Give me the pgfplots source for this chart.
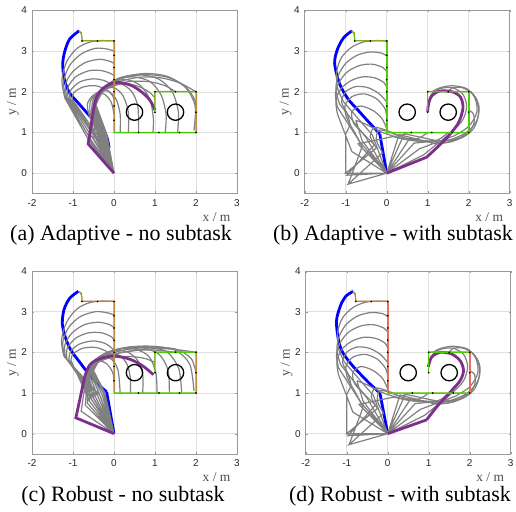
\documentclass[border=0pt]{standalone}
\usepackage{fontspec}
\setmainfont{Liberation Serif}
\newfontfamily\arialf{Liberation Sans}
\usepackage{pgfplots}
\pgfplotsset{compat=1.18}
\definecolor{gcurve}{rgb}{0.5,0.5,0.5}
\definecolor{mpurple}{rgb}{0.494,0.184,0.556}
\definecolor{pgreen}{rgb}{0.3,0.8,0.0}
\definecolor{pred}{rgb}{1,0.4,0.4}
\pgfplotsset{
  panel/.style={anchor=south west, scale only axis, width=205bp, height=183bp,
    xmin=-2, xmax=3, ymin=-0.5, ymax=4,
    xtick={-2,-1,0,1,2,3}, ytick={0,1,2,3,4},
    xticklabels={-2,-1,0,1,2,3}, yticklabels={0,1,2,3,4},
    grid=major, major grid style={black!12, line width=0.5bp},
    axis line style={black!40, line width=0.6bp},
    tick align=inside, major tick length=2bp, tick style={black!40},
    ticklabel style={font=\arialf\fontsize{10}{12}\selectfont, text=black!85},
    xticklabel style={yshift=-2.5bp}, yticklabel style={xshift=-1.5bp},
    xlabel={x / m}, ylabel={y / m},
    xlabel style={at={(axis description cs:0.9,-0.128)}, anchor=center, inner sep=0pt, font=\fontsize{13.5}{15}\selectfont, text=black!70},
    ylabel style={at={(axis description cs:-0.093,0.5)}, anchor=center, inner sep=0pt, font=\fontsize{13.5}{15}\selectfont, text=black!70},
  },
  gr/.style={gcurve, line width=1.2bp, smooth, tension=0.5},
  lk/.style={gcurve, line width=1.2bp, unbounded coords=jump},
  bl/.style={blue, line width=2.8bp},
  pu/.style={mpurple, line width=2.8bp},
}
\newcommand{\obst}{%
\addplot[black, line width=1.3bp] coordinates {(0.7,1.5) (0.685,1.577) (0.641,1.641) (0.577,1.685) (0.5,1.7) (0.423,1.685) (0.359,1.641) (0.315,1.577) (0.3,1.5) (0.315,1.423) (0.359,1.359) (0.423,1.315) (0.5,1.3) (0.577,1.315) (0.641,1.359) (0.685,1.423) (0.7,1.5)};
\addplot[black, line width=1.3bp] coordinates {(1.7,1.5) (1.685,1.577) (1.641,1.641) (1.577,1.685) (1.5,1.7) (1.423,1.685) (1.359,1.641) (1.315,1.577) (1.3,1.5) (1.315,1.423) (1.359,1.359) (1.423,1.315) (1.5,1.3) (1.577,1.315) (1.641,1.359) (1.685,1.423) (1.7,1.5)};
}
\newcommand{\trackpath}{%
\addplot[pred, line width=1.0bp] coordinates {(-0.85,3.5) (-0.8,3.42) (-0.77,3.26) (0.015,3.26) (0.015,0.99) (2.015,0.99) (2.015,2.01) (1.0,2.01) (1.0,1.65)};
\addplot[pgreen, line width=1.0bp] coordinates {(-0.85,3.5) (-0.79,3.45) (-0.78,3.25) (0,3.25) (0,1) (2,1) (2,2) (1,2) (1,1.5)};
\addplot[only marks, mark=*, mark size=0.6bp, black] coordinates {(-0.78,3.25) (-0.4,3.25) (0,3.25) (0,2.9) (0,2.6) (0,2.3) (0,2.0) (0,1.65) (0,1.3) (0.6,1) (1.1,1) (1.6,1) (2,1) (2,1.5) (2,2) (1.5,2) (1,2) (1,1.5)};
}
% gray configurations shared by (b) and (d)
\newcommand{\bdgray}{%
\addplot[lk] coordinates {(0,0) (-0.35,0.94) (-1.05,1.75) (nan,nan) (0,0) (-0.5,0.87) (-1.15,1.7) (nan,nan) (0,0) (-0.65,0.76) (-1.2,1.62) (nan,nan) (0,0) (-0.85,0.53) (-1.2,1.45) (nan,nan) (0,0) (-1,0) (-1,0.97) (nan,nan) (0,0) (-0.94,-0.27) (-0.6,0.65) (nan,nan) (0,0) (-0.97,-0.05) (-0.3,0.7) (nan,nan) (0,0) (-0.94,-0.27) (-0.1,0.5) (nan,nan) (0,0) (-1,0) (-0.25,0.62) (nan,nan) (0,0) (-0.7,0.72) (0.15,0.9) (nan,nan) (0,0) (-0.6,0.8) (-0.75,1.3) (nan,nan) (0,0) (0.43,0.97) (1.3,0.78) (nan,nan) (0,0) (0.3,0.95) (1.2,0.72) (nan,nan) (0,0) (0.55,0.84) (1.45,0.75) (nan,nan) (0,0) (0.67,0.74) (1.55,0.82) (nan,nan) (0,0) (0.8,0.6) (1.65,0.92) (nan,nan) (0,0) (0.9,0.45) (1.55,0.98)};
\addplot[gr] coordinates {(-1.05,1.75) (-1.2,2.1) (-1.22,2.5) (-1.1,2.85) (-0.85,3.1) (-0.55,3.23) (-0.25,3.26) (0,3.25)};
\addplot[gr] coordinates {(-1.15,1.7) (-1.24,2.05) (-1.18,2.4) (-1.0,2.7) (-0.72,2.9) (-0.4,2.98) (-0.12,2.95) (0,2.88)};
\addplot[gr] coordinates {(-1.2,1.62) (-1.25,1.95) (-1.15,2.25) (-0.95,2.5) (-0.65,2.65) (-0.35,2.68) (-0.1,2.6) (0,2.5)};
\addplot[gr] coordinates {(-1.2,1.45) (-1.24,1.78) (-1.12,2.07) (-0.88,2.27) (-0.58,2.37) (-0.28,2.34) (-0.06,2.22) (0,2.1)};
\addplot[gr] coordinates {(-1.0,0.97) (-0.9,1.2) (-0.98,1.5) (-1.1,1.75) (-1.0,2.0) (-0.75,2.13) (-0.45,2.1) (-0.18,1.95) (0,1.75)};
\addplot[gr] coordinates {(-0.6,0.65) (-0.78,1.0) (-0.97,1.35) (-1.02,1.65) (-0.85,1.88) (-0.55,1.95) (-0.25,1.83) (-0.05,1.6) (0,1.4)};
\addplot[gr] coordinates {(-0.3,0.7) (-0.55,0.95) (-0.8,1.22) (-0.85,1.5) (-0.65,1.65) (-0.35,1.55) (-0.12,1.35) (0,1.1)};
\addplot[gr] coordinates {(-0.1,0.5) (-0.25,0.8) (-0.2,1.05) (0.05,1.02) (0.3,0.92) (0.5,1.0)};
\addplot[gr] coordinates {(-0.25,0.62) (-0.4,0.9) (-0.3,1.12) (0,1.05) (0.4,0.88) (0.75,0.85) (1.0,1.0)};
\addplot[gr] coordinates {(0.15,0.9) (0.5,0.82) (0.9,0.78) (1.25,0.82) (1.5,1.0)};
\addplot[gr] coordinates {(-0.75,1.3) (-0.5,1.2) (-0.1,1.0) (0.4,0.85) (0.95,0.78) (1.45,0.8) (1.8,0.88) (2.0,1.05)};
\addplot[gr] coordinates {(1.3,0.78) (1.65,0.82) (1.9,0.92) (2.0,1.0)};
\addplot[gr] coordinates {(1.2,0.72) (1.6,0.78) (1.95,0.95) (2.12,1.2) (2.12,1.45) (2.0,1.55)};
\addplot[gr] coordinates {(1.45,0.75) (1.85,0.88) (2.12,1.1) (2.24,1.45) (2.2,1.8) (2.05,2.0)};
\addplot[gr] coordinates {(1.55,0.82) (1.95,1.0) (2.2,1.3) (2.25,1.65) (2.1,1.95) (1.85,2.1) (1.6,2.1) (1.5,2.0)};
\addplot[gr] coordinates {(1.65,0.92) (2.0,1.15) (2.2,1.5) (2.15,1.85) (1.95,2.08) (1.6,2.15) (1.3,2.1) (1.1,2.0)};
\addplot[gr] coordinates {(1.55,0.98) (1.85,1.3) (1.95,1.65) (1.85,1.95) (1.6,2.1) (1.3,2.08) (1.1,1.95) (1.0,1.7)};
}
\begin{document}
\begin{tikzpicture}
\path[use as bounding box] (0,0) rectangle (516bp,512bp);
% ---------------- (a)
\begin{axis}[panel, at={(32bp,318.5bp)}]
\addplot[bl, smooth, tension=0.5] coordinates {(-0.12,0.62) (-0.2,0.95) (-0.5,1.3) (-0.85,1.7) (-1.1,2.0) (-1.22,2.35) (-1.25,2.7) (-1.2,3.0) (-1.08,3.3) (-0.85,3.5)};
\addplot[lk] coordinates {(0,0) (-0.6,0.78) (-1.2,1.85) (nan,nan) (0,0) (-0.55,0.8) (-1.18,1.85) (nan,nan) (0,0) (-0.5,0.83) (-1.15,1.85) (nan,nan) (0,0) (-0.45,0.86) (-1.12,1.85) (nan,nan) (0,0) (-0.42,0.88) (-1.08,1.85) (nan,nan) (0,0) (-0.38,0.9) (-1.02,1.82) (nan,nan) (0,0) (-0.35,0.9) (-0.6,1.4) (nan,nan) (0,0) (-0.33,0.92) (-0.58,1.45) (nan,nan) (0,0) (-0.3,0.93) (-0.55,1.5) (nan,nan) (0,0) (-0.28,0.94) (-0.52,1.55) (nan,nan) (0,0) (-0.25,0.95) (-0.5,1.6) (nan,nan) (0,0) (-0.22,0.96) (-0.48,1.62) (nan,nan) (0,0) (-0.2,0.97) (-0.46,1.65) (nan,nan) (0,0) (-0.18,0.97) (-0.44,1.68) (nan,nan) (0,0) (-0.4,0.9) (-0.5,1.6) (nan,nan) (0,0) (-0.45,0.87) (-0.52,1.55) (nan,nan) (0,0) (-0.5,0.85) (-0.55,1.5) (nan,nan) (0,0) (-0.58,0.8) (-0.55,1.5)};
\addplot[gr] coordinates {(-1.2,1.85) (-1.27,2.3) (-1.15,2.75) (-0.9,3.07) (-0.6,3.22) (-0.3,3.26) (-0.1,3.25)};
\addplot[gr] coordinates {(-1.18,1.85) (-1.23,2.25) (-1.08,2.65) (-0.8,2.93) (-0.45,3.07) (-0.15,3.05) (0,3.0)};
\addplot[gr] coordinates {(-1.15,1.85) (-1.18,2.2) (-1.0,2.5) (-0.7,2.72) (-0.35,2.8) (-0.1,2.75) (0,2.7)};
\addplot[gr] coordinates {(-1.12,1.85) (-1.12,2.12) (-0.92,2.38) (-0.6,2.52) (-0.3,2.52) (-0.08,2.45) (0,2.4)};
\addplot[gr] coordinates {(-1.08,1.85) (-1.05,2.05) (-0.82,2.25) (-0.5,2.32) (-0.22,2.27) (-0.04,2.15) (0,2.1)};
\addplot[gr] coordinates {(-1.02,1.82) (-0.98,1.98) (-0.75,2.12) (-0.45,2.15) (-0.18,2.05) (-0.03,1.9) (0,1.8)};
\addplot[gr] coordinates {(-0.6,1.4) (-0.65,1.7) (-0.5,1.92) (-0.25,1.95) (-0.07,1.75) (0,1.45)};
\addplot[gr] coordinates {(-0.58,1.45) (-0.58,1.75) (-0.42,1.98) (-0.15,2.02) (0.05,1.82) (0.15,1.45) (0.15,1.0)};
\addplot[gr] coordinates {(-0.55,1.5) (-0.5,1.85) (-0.3,2.05) (0,2.1) (0.22,1.9) (0.35,1.5) (0.35,1.0)};
\addplot[gr] coordinates {(-0.52,1.55) (-0.45,1.9) (-0.2,2.15) (0.15,2.2) (0.42,2.02) (0.58,1.65) (0.6,1.0)};
\addplot[gr] coordinates {(-0.5,1.6) (-0.4,1.95) (-0.1,2.22) (0.3,2.3) (0.65,2.15) (0.88,1.8) (0.96,1.35) (0.95,1.0)};
\addplot[gr] coordinates {(-0.48,1.62) (-0.33,2.0) (0.0,2.28) (0.45,2.37) (0.88,2.25) (1.15,1.92) (1.27,1.45) (1.25,1.0)};
\addplot[gr] coordinates {(-0.46,1.65) (-0.28,2.05) (0.1,2.33) (0.6,2.42) (1.08,2.32) (1.42,2.0) (1.57,1.5) (1.55,1.0)};
\addplot[gr] coordinates {(-0.44,1.68) (-0.22,2.08) (0.2,2.35) (0.75,2.45) (1.3,2.38) (1.75,2.1) (1.98,1.65) (1.95,1.05)};
\addplot[gr] coordinates {(-0.5,1.6) (-0.3,2.0) (0.1,2.3) (0.7,2.42) (1.3,2.36) (1.75,2.12) (1.97,1.8) (2.0,1.55)};
\addplot[gr] coordinates {(-0.52,1.55) (-0.38,1.92) (0.0,2.2) (0.55,2.35) (1.1,2.35) (1.6,2.22) (2.0,2.0)};
\addplot[gr] coordinates {(-0.55,1.5) (-0.42,1.85) (-0.1,2.12) (0.35,2.25) (0.85,2.25) (1.25,2.15) (1.5,2.0)};
\addplot[gr] coordinates {(-0.55,1.5) (-0.45,1.82) (-0.18,2.07) (0.2,2.2) (0.55,2.15) (0.85,2.0) (1.0,1.85)};
\addplot[pu] coordinates {(0,0) (-0.63,0.72) (-0.5,1.55)};
\addplot[pu, smooth, tension=0.5] coordinates {(-0.5,1.55) (-0.42,1.88) (-0.26,2.09) (0.02,2.23) (0.39,2.17) (0.67,2.0) (0.88,1.79) (1.0,1.55)};
\trackpath
\obst
\end{axis}
% ---------------- (b)
\begin{axis}[panel, at={(304.7bp,318.5bp)}]
\addplot[bl] coordinates {(0,0) (-0.17,0.97)};
\addplot[bl, smooth, tension=0.5] coordinates {(-0.17,0.97) (-0.45,1.27) (-0.7,1.55) (-0.94,1.82) (-1.15,2.2) (-1.27,2.7) (-1.2,3.05) (-1.05,3.33) (-0.85,3.5)};
\bdgray
\addplot[pu] coordinates {(0,0) (0.97,0.39)};
\addplot[pu, smooth, tension=0.5] coordinates {(0.97,0.39) (1.41,0.81) (1.74,1.22) (1.86,1.6) (1.8,1.87) (1.6,2.0) (1.3,2.02) (1.1,1.9) (1.02,1.7) (1.0,1.5)};
\trackpath
\obst
\end{axis}
% ---------------- (c)
\begin{axis}[panel, at={(32bp,58bp)}]
\addplot[bl] coordinates {(0,0) (-0.18,1.03)};
\addplot[bl, smooth, tension=0.5] coordinates {(-0.18,1.03) (-0.34,1.17) (-0.6,1.45) (-0.83,1.75) (-1.05,2.05) (-1.18,2.35) (-1.26,2.7) (-1.22,3.05) (-1.08,3.33) (-0.87,3.5)};
\addplot[lk] coordinates {(0,0) (-0.35,0.95) (-1.22,1.9) (nan,nan) (0,0) (-0.4,0.93) (-1.2,1.88) (nan,nan) (0,0) (-0.45,0.9) (-1.18,1.86) (nan,nan) (0,0) (-0.5,0.87) (-1.15,1.84) (nan,nan) (0,0) (-0.55,0.84) (-1.1,1.82) (nan,nan) (0,0) (-0.6,0.8) (-1.05,1.8) (nan,nan) (0,0) (-0.55,0.85) (-0.68,1.35) (nan,nan) (0,0) (-0.5,0.88) (-0.66,1.4) (nan,nan) (0,0) (-0.45,0.9) (-0.63,1.42) (nan,nan) (0,0) (-0.4,0.93) (-0.6,1.45) (nan,nan) (0,0) (-0.35,0.96) (-0.57,1.48) (nan,nan) (0,0) (-0.3,0.98) (-0.55,1.5) (nan,nan) (0,0) (-0.26,1.0) (-0.52,1.52) (nan,nan) (0,0) (-0.22,1.0) (-0.5,1.55) (nan,nan) (0,0) (-0.6,0.8) (-0.6,1.45) (nan,nan) (0,0) (-0.65,0.75) (-0.62,1.4) (nan,nan) (0,0) (-0.7,0.7) (-0.65,1.38) (nan,nan) (0,0) (-0.8,0.55) (-0.68,1.4)};
\addplot[gr] coordinates {(-1.22,1.9) (-1.28,2.3) (-1.15,2.75) (-0.9,3.07) (-0.6,3.22) (-0.3,3.26) (0,3.25)};
\addplot[gr] coordinates {(-1.2,1.88) (-1.25,2.25) (-1.1,2.62) (-0.82,2.88) (-0.45,3.0) (-0.15,2.97) (0,2.92)};
\addplot[gr] coordinates {(-1.18,1.86) (-1.2,2.18) (-1.02,2.48) (-0.72,2.68) (-0.38,2.74) (-0.1,2.68) (0,2.6)};
\addplot[gr] coordinates {(-1.15,1.84) (-1.14,2.1) (-0.93,2.35) (-0.62,2.48) (-0.3,2.48) (-0.06,2.38) (0,2.3)};
\addplot[gr] coordinates {(-1.1,1.82) (-1.06,2.02) (-0.85,2.2) (-0.52,2.28) (-0.22,2.22) (-0.03,2.08) (0,2.0)};
\addplot[gr] coordinates {(-1.05,1.8) (-1.0,1.96) (-0.76,2.1) (-0.45,2.12) (-0.18,2.02) (-0.03,1.85) (0,1.7)};
\addplot[gr] coordinates {(-0.68,1.35) (-0.62,1.65) (-0.42,1.8) (-0.18,1.72) (-0.03,1.5) (0,1.3)};
\addplot[gr] coordinates {(-0.66,1.4) (-0.55,1.72) (-0.3,1.88) (-0.05,1.82) (0.1,1.55) (0.15,1.0)};
\addplot[gr] coordinates {(-0.63,1.42) (-0.5,1.78) (-0.2,1.95) (0.12,1.93) (0.32,1.7) (0.4,1.35) (0.4,1.0)};
\addplot[gr] coordinates {(-0.6,1.45) (-0.45,1.82) (-0.1,2.02) (0.3,2.02) (0.58,1.8) (0.7,1.45) (0.7,1.0)};
\addplot[gr] coordinates {(-0.57,1.48) (-0.4,1.85) (0.0,2.06) (0.5,2.08) (0.85,1.9) (1.02,1.5) (1.05,1.0)};
\addplot[gr] coordinates {(-0.55,1.5) (-0.35,1.88) (0.1,2.08) (0.65,2.12) (1.1,1.95) (1.32,1.55) (1.35,1.0)};
\addplot[gr] coordinates {(-0.52,1.52) (-0.3,1.9) (0.2,2.1) (0.8,2.14) (1.3,2.0) (1.58,1.6) (1.65,1.0)};
\addplot[gr] coordinates {(-0.5,1.55) (-0.25,1.92) (0.3,2.12) (0.95,2.15) (1.5,2.05) (1.85,1.7) (1.95,1.05)};
\addplot[gr] coordinates {(-0.6,1.45) (-0.35,1.82) (0.2,2.05) (0.9,2.12) (1.5,2.08) (1.88,1.85) (2.0,1.5)};
\addplot[gr] coordinates {(-0.62,1.4) (-0.4,1.75) (0.1,1.98) (0.8,2.08) (1.4,2.08) (2.0,2.0)};
\addplot[gr] coordinates {(-0.65,1.38) (-0.45,1.72) (0.0,1.95) (0.6,2.05) (1.1,2.05) (1.5,2.0)};
\addplot[gr] coordinates {(-0.68,1.4) (-0.5,1.68) (-0.15,1.85) (0.35,1.9) (0.75,1.85) (1.0,1.75)};
\addplot[pu] coordinates {(0,0) (-0.93,0.39) (-0.71,1.42)};
\addplot[pu, smooth, tension=0.5] coordinates {(-0.71,1.42) (-0.6,1.68) (-0.45,1.8) (-0.26,1.87) (0.02,1.91) (0.39,1.83) (0.71,1.66) (0.96,1.45)};
\trackpath
\obst
\end{axis}
% ---------------- (d)
\begin{axis}[panel, at={(305.7bp,58bp)}]
\addplot[bl] coordinates {(0,0) (-0.19,1.0)};
\addplot[bl, smooth, tension=0.5] coordinates {(-0.19,1.0) (-0.44,1.23) (-0.7,1.5) (-0.89,1.71) (-1.1,2.0) (-1.2,2.3) (-1.25,2.77) (-1.15,3.15) (-1.02,3.38) (-0.84,3.5)};
\bdgray
\addplot[pu] coordinates {(0,0) (0.95,0.34)};
\addplot[pu, smooth, tension=0.5] coordinates {(0.95,0.34) (1.23,0.7) (1.56,1.06) (1.77,1.31) (1.85,1.55) (1.77,1.79) (1.56,1.96) (1.28,2.0) (1.07,1.88) (0.99,1.64)};
\trackpath
\obst
\end{axis}
\node[anchor=base, inner sep=0pt, font=\fontsize{22}{24}\selectfont] at (121bp,271bp) {(a) Adaptive - no subtask};
\node[anchor=base, inner sep=0pt, font=\fontsize{22}{24}\selectfont] at (393bp,271bp) {(b) Adaptive - with subtask};
\node[anchor=base, inner sep=0pt, font=\fontsize{22}{24}\selectfont] at (123bp,11bp) {(c) Robust - no subtask};
\node[anchor=base, inner sep=0pt, font=\fontsize{22}{24}\selectfont] at (400bp,11bp) {(d) Robust - with subtask};
\end{tikzpicture}
\end{document}
